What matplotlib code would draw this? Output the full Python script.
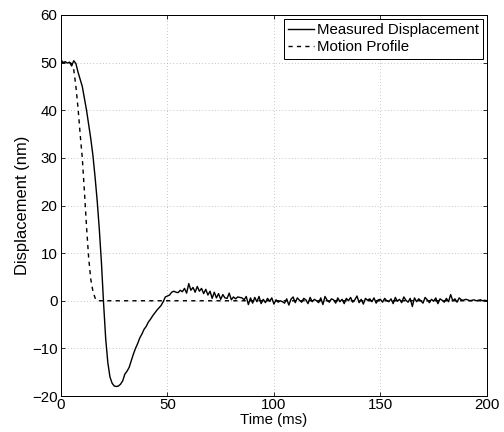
import numpy as np
import matplotlib.pyplot as plt

plt.rcParams['font.family'] = ['Liberation Sans', 'DejaVu Sans']

# -----------------------------
# Data (1 ms samples, 0..200 ms)
# -----------------------------
time_ms = np.arange(0, 201)

measured = [
    50.6, 50.0, 50.2, 49.9, 50.1, 49.3, 50.4, 49.8, 48.0, 46.5,
    45.0, 42.5, 40.0, 37.0, 34.0, 30.5, 26.0, 21.0, 15.0, 8.0,
    -0.5, -8.0, -13.0, -16.0, -17.3, -17.9, -18.0, -17.9, -17.5, -16.8,
    -15.4, -14.8, -14.0, -12.6, -11.2, -10.0, -9.0, -7.8, -7.0, -6.0,
    -5.4, -4.5, -3.9, -3.2, -2.6, -2.0, -1.5, -1.0, -0.2, 0.8,
    1.0, 1.2, 1.8, 2.0, 1.8, 1.7, 2.2, 1.9, 2.6, 1.6,
    3.6, 2.2, 2.8, 1.8, 3.0, 2.0, 2.6, 1.5, 2.4, 1.2,
    2.0, 0.5, 1.8, 0.6, 1.5, 0.3, 1.3, 0.6, 0.5, 1.6,
    0.2, 0.8, 0.4, 0.8, 0.7, 0.6, 0.2, 0.9, -0.8, 0.6,
    -0.5, 0.7, -0.2, 0.9, -0.6, 0.3, -0.4, 0.5, -0.1, 0.6,
    -0.7, 0.2, -0.3, 0.0, -0.2, -0.5, 0.4, -0.9, 0.3, 0.8,
    -0.4, 0.6, 0.1, -0.3, 0.5, 0.2, -0.6, 0.7, -0.2, 0.3,
    0.0, -0.4, 0.6, -0.8, 0.9, 0.1, -0.3, 0.4, 0.2, -0.5,
    0.6, -0.2, 0.3, -0.6, 0.5, 0.0, 0.7, -0.3, 0.2, 1.0,
    -0.4, 0.3, -0.7, 0.5, 0.1, 0.4, -0.2, 0.6, -0.5, 0.2,
    0.3, -0.3, 0.5, 0.0, -0.2, 0.4, -0.6, 0.7, -0.1, 0.3,
    -0.4, 0.8, 0.1, -0.3, 0.5, -1.2, 0.6, -0.2, 0.4, 0.0,
    -0.5, 0.7, 0.2, -0.4, 0.3, -0.1, 0.6, -0.6, 0.4, 0.1,
    -0.3, 0.5, -0.2, 1.3, 0.0, 0.4, -0.3, 0.6, 0.2, 0.1,
    0.3, 0.2, 0.0, 0.1, 0.2, 0.0, 0.1, 0.2, 0.0, 0.1,
    0.0,
]

profile = [
    50.0, 50.0, 50.0, 50.0, 50.0, 49.8, 48.5, 45.0, 40.5, 35.0,
    30.0, 23.0, 15.5, 9.0, 4.5, 2.0, 0.6,
] + [0.0] * 184

# -----------------------------
# Plot
# -----------------------------
fig = plt.figure(figsize=(7, 6), dpi=72)
ax = fig.add_axes([0.121, 0.0833, 0.845, 0.882])

ax.plot(time_ms, measured, color="black", linewidth=1.4, label="Measured Displacement")
ax.plot(time_ms, profile, color="black", linewidth=1.4, linestyle=(0, (3, 3)),
        label="Motion Profile")

ax.set_xlim(0, 200)
ax.set_ylim(-20, 60)
ax.set_xticks([0, 50, 100, 150, 200])
ax.set_yticks([-20, -10, 0, 10, 20, 30, 40, 50, 60])
ax.set_xlabel("Time (ms)", fontsize=15, labelpad=1)
ax.set_ylabel("Displacement (nm)", fontsize=16.5, labelpad=2)

ax.grid(True, color="#aaaaaa", linestyle=(0, (1, 3)), linewidth=0.8)
ax.tick_params(direction="in", top=True, right=True, labelsize=15, length=4)
ax.tick_params(axis="x", pad=2)
for s in ax.spines.values():
    s.set_linewidth(1.0)

leg = ax.legend(loc="upper right", fontsize=15, fancybox=False, framealpha=1,
                edgecolor="black", borderaxespad=0.25, handlelength=1.7,
                handletextpad=0.2, borderpad=0.3, labelspacing=0.2)
leg.get_frame().set_linewidth(1.0)

fig.savefig("out.png", dpi=72)
